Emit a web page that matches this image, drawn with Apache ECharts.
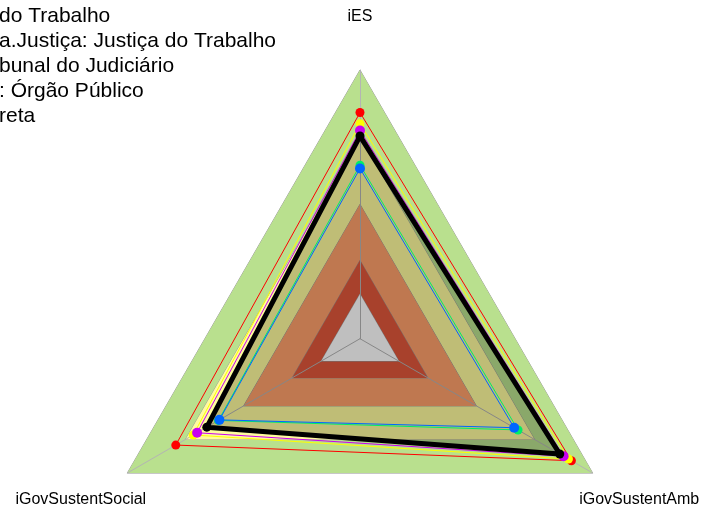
<!DOCTYPE html>
<html>
<head>
<meta charset="utf-8">
<script src="https://cdn.jsdelivr.net/npm/echarts@6/dist/echarts.min.js"></script>
<style>
    html, body {margin: 0; padding: 0; background: #fff;}
    #chart {width: 702px; height: 511px;}
</style>
</head>
<body>
<div id="chart"></div>
<script>
const indicators = ['iES', 'iGovSustentSocial', 'iGovSustentAmb'];

// faixas de fundo (limites superiores)
const bandLimits = [1, 0.7, 0.4, 0.15, 0];
const bandColors = ['#b9e08e', '#fffc9e', '#ffa06b', '#e0573b', '#ffffff'];

const legendNames = [
    'do Trabalho',
    'a.Justiça: Justiça do Trabalho',
    'bunal do Judiciário',
    ': Órgão Público',
    'reta'
];

const serieBlack = [0.705, 0.59, 0.83];
const serieRed = [0.81, 0.75, 0.89];
const serieYellow = [0.76, 0.66, 0.875];
const serieMagenta = [0.73, 0.64, 0.85];
const serieGreen = [0.575, 0.53, 0.615];
const serieBlue = [0.56, 0.525, 0.595];

const chart = echarts.init(document.getElementById('chart'));

let series = [];

bandLimits.forEach((v, i) => {
    series.push({
        type: 'radar',
        z: 1,
        silent: true,
        symbol: 'none',
        lineStyle: {color: '#9a9a9a', width: 1},
        areaStyle: {color: bandColors[i], opacity: 1},
        data: [{value: [v, v, v]}]
    });
});

// preenchimento translúcido do polígono preto
series.push({
    type: 'radar',
    z: 4,
    silent: true,
    symbol: 'none',
    lineStyle: {width: 0, opacity: 0},
    areaStyle: {color: 'rgba(0,0,0,0.25)', opacity: 1},
    data: [{value: serieBlack}]
});

function lineSerie(name, color, values, width, size, z) {
    return {
        name: name,
        type: 'radar',
        z: z,
        symbol: 'circle',
        symbolSize: size,
        itemStyle: {color: color},
        lineStyle: {color: color, width: width},
        data: [{value: values, name: name}]
    };
}

series.push(lineSerie(legendNames[1], '#ff0000', serieRed, 1, 9, 5));
series.push(lineSerie(legendNames[3], '#ffff00', serieYellow, 1, 9, 5));
series.push(lineSerie(legendNames[2], '#c800f0', serieMagenta, 1, 10, 5));
series.push(lineSerie(legendNames[4], '#00ee66', serieGreen, 1, 9, 5));
series.push(lineSerie('blue', '#0066ff', serieBlue, 1, 10, 5));
series.push(lineSerie(legendNames[0], '#000000', serieBlack, 5, 9, 6));

chart.setOption({
    animation: false,
    legend: {
        data: legendNames,
        orient: 'vertical',
        left: -6,
        top: 5,
        padding: 0,
        icon: 'none',
        itemWidth: 0,
        itemHeight: 14,
        itemGap: 3,
        selectedMode: false,
        textStyle: {
            fontFamily: 'Liberation Sans',
            fontSize: 21,
            lineHeight: 22,
            color: '#000'
        }
    },
    radar: {
        z: 3,
        center: [360, 338.7],
        radius: 268.7,
        startAngle: 90,
        shape: 'polygon',
        splitNumber: 6,
        nameGap: 53.7,
        axisName: {
            color: '#000',
            fontFamily: 'Liberation Sans',
            fontSize: 16,
            align: 'center',
            verticalAlign: 'middle'
        },
        axisLine: {lineStyle: {color: '#b4b4b4', width: 1}},
        splitLine: {show: false},
        splitArea: {show: false},
        indicator: indicators.map((n) => ({name: n, min: -0.2, max: 1}))
    },
    series: series
});
</script>
</body>
</html>
